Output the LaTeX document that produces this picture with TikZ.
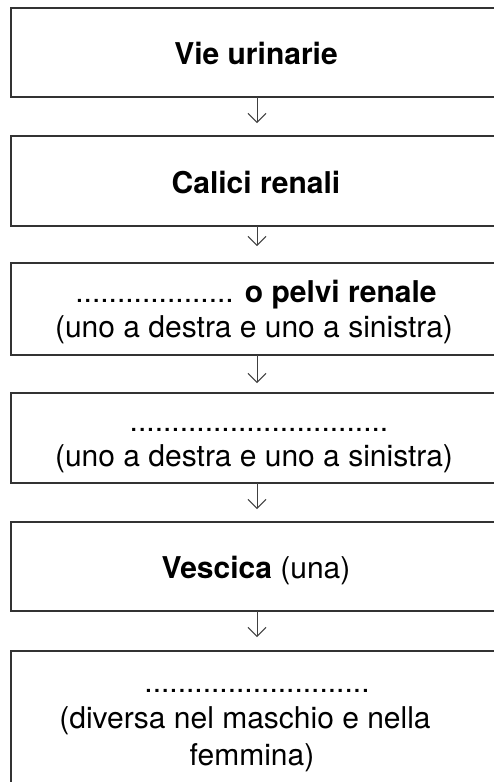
\documentclass[tikz,border=0pt]{standalone}
\usepackage{fontspec}
\setmainfont{TeX Gyre Heros}
\usetikzlibrary{arrows.meta}
\begin{document}
\begin{tikzpicture}[x=1pt,y=-1pt,
  box/.style={rectangle, draw=black!80, line width=1.1pt, minimum width=492pt, inner sep=0pt, outer sep=0pt, anchor=north west},
  lbl/.style={anchor=base, font=\fontsize{30}{36}\selectfont, inner sep=0pt, text=black},
  arr/.style={draw=black!75, line width=1pt, -{Straight Barb[length=9pt,width=18pt,line width=1pt]}}]
\useasboundingbox (0,0) rectangle (494,782);
\clip (0,0) rectangle (494,782);
% boxes
\node[box, minimum height=89pt] (b1) at (11,8) {};
\node[box, minimum height=90pt] (b2) at (11,136) {};
\node[box, minimum height=92pt] (b3) at (11,263) {};
\node[box, minimum height=90pt] (b4) at (11,393) {};
\node[box, minimum height=89pt] (b5) at (11,522) {};
\node[box, minimum height=160pt] (b6) at (11,651) {};
% texts
\node[lbl] (t1) at (256,64) {\bfseries Vie urinarie};
\node[lbl] (t2) at (256,193) {\bfseries Calici renali};
\node[lbl] (t3a) at (256,302) {................... \textbf{o pelvi renale}};
\node[lbl] (t3b) at (254,337) {(uno a destra e uno a sinistra)};
\node[lbl] (t4a) at (259,431) {...............................};
\node[lbl] (t4b) at (254,466) {(uno a destra e uno a sinistra)};
\node[lbl] (t5) at (256,578) {\textbf{Vescica} (una)};
\node[lbl] (t6a) at (257,692) {...........................};
\node[lbl] (t6b) at (245,728) {(diversa nel maschio e nella};
\node[lbl] (t6c) at (252,765) {femmina)};
% connectors
\draw[arr, shorten >=13pt] (b1.south) -- (b2.north);
\draw[arr, shorten >=17pt] (b2.south) -- (b3.north);
\draw[arr, shorten >=10pt] (b3.south) -- (b4.north);
\draw[arr, shorten >=13pt] (b4.south) -- (b5.north);
\draw[arr, shorten >=14pt] (b5.south) -- (b6.north);
\end{tikzpicture}
\end{document}
